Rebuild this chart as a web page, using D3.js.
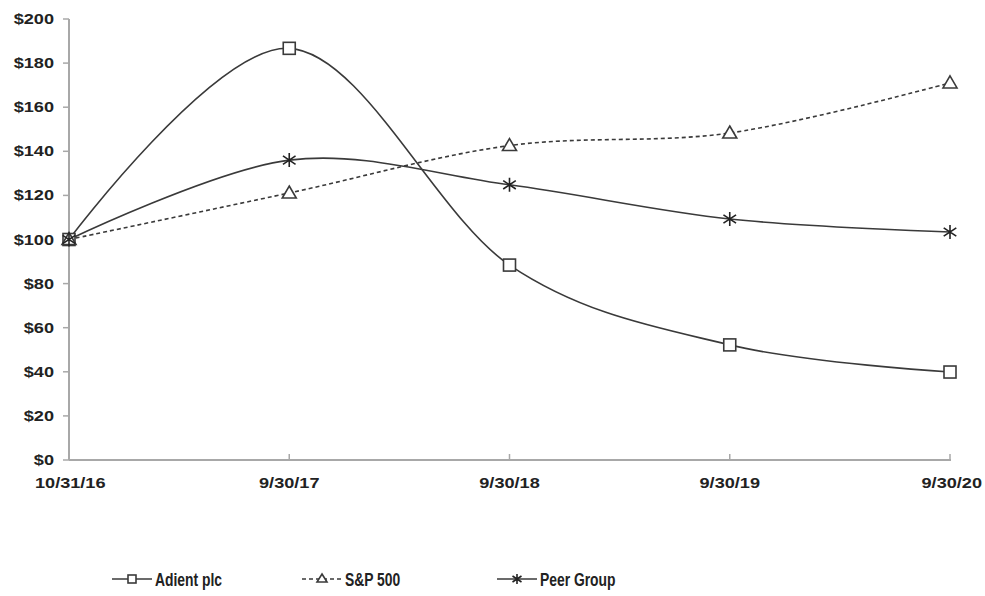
<!DOCTYPE html>
<html>
<head>
<meta charset="utf-8">
<script src="https://cdn.jsdelivr.net/npm/d3@7"></script>
<style>
  body { margin: 0; background: #fff; }
  text { font-family: "Liberation Sans", Arial, sans-serif; fill: #222; }
</style>
</head>
<body>
<div id="chart"></div>
<script>
const dates = ['10/31/16', '9/30/17', '9/30/18', '9/30/19', '9/30/20'];
const adient = [100, 186.7, 88.4, 52.2, 39.9];
const sp500 = [100, 121.1, 142.6, 148.3, 171];
const peer = [100, 136, 124.8, 109.3, 103.4];
const yTicks = [0, 20, 40, 60, 80, 100, 120, 140, 160, 180, 200];

const W = 985, H = 596;
const svg = d3.select('#chart').append('svg').attr('width', W).attr('height', H);

const x = d3.scalePoint().domain(dates).range([69, 950]);
const y = d3.scaleLinear().domain([0, 200]).range([460, 19]);

// axes
const axisCol = '#a8a8a8';
svg.append('line').attr('x1', 69).attr('x2', 69).attr('y1', y(200)).attr('y2', y(0))
  .attr('stroke', axisCol).attr('stroke-width', 2);
svg.append('line').attr('x1', 69).attr('x2', 951).attr('y1', y(0)).attr('y2', y(0))
  .attr('stroke', axisCol).attr('stroke-width', 2);

svg.selectAll('.ytick').data(yTicks).enter().append('line')
  .attr('x1', 63).attr('x2', 69).attr('y1', d => y(d)).attr('y2', d => y(d))
  .attr('stroke', axisCol).attr('stroke-width', 1.5);
svg.selectAll('.xtick').data(dates.slice(1)).enter().append('line')
  .attr('x1', d => x(d)).attr('x2', d => x(d)).attr('y1', y(0) - 6).attr('y2', y(0))
  .attr('stroke', axisCol).attr('stroke-width', 1.5);

const sx = 1.25;
svg.selectAll('.ylab').data(yTicks).enter().append('text')
  .attr('transform', d => `translate(54,${y(d) + 5}) scale(${sx},1)`)
  .attr('text-anchor', 'end').attr('font-size', 14.5).attr('font-weight', 'bold')
  .text(d => '$' + d);

svg.selectAll('.xlab').data(dates).enter().append('text')
  .attr('transform', (d, i) => {
    const px = i === 0 ? 35 : (i === dates.length - 1 ? 982 : x(d));
    return `translate(${px},488) scale(${sx},1)`;
  })
  .attr('text-anchor', (d, i) => i === 0 ? 'start' : (i === dates.length - 1 ? 'end' : 'middle'))
  .attr('font-size', 14.5).attr('font-weight', 'bold')
  .text(d => d);

const lineCol = '#3a3a3a';
const curve = d3.curveCardinal.tension(0);
const mk = d3.line().x((d, i) => x(dates[i])).y(d => y(d)).curve(curve);

const series = [
  { name: 'Adient plc', vals: adient, dash: null, marker: 'square' },
  { name: 'S&P 500', vals: sp500, dash: '4,3', marker: 'triangle' },
  { name: 'Peer Group', vals: peer, dash: null, marker: 'star' }
];

function drawMarker(g, type, cx, cy, r) {
  if (type === 'square') {
    g.append('rect').attr('x', cx - r).attr('y', cy - r).attr('width', 2 * r).attr('height', 2 * r)
      .attr('fill', '#fff').attr('stroke', lineCol).attr('stroke-width', 1.6);
  } else if (type === 'triangle') {
    g.append('path').attr('d', `M${cx},${cy - r - 1}L${cx + r + 1},${cy + r - 1}L${cx - r - 1},${cy + r - 1}Z`)
      .attr('fill', '#fff').attr('stroke', lineCol).attr('stroke-width', 1.6);
  } else {
    const k = r + 1;
    let p = `M${cx},${cy - k}L${cx},${cy + k}`;
    p += `M${cx - k * 0.9},${cy - k * 0.6}L${cx + k * 0.9},${cy + k * 0.6}`;
    p += `M${cx + k * 0.9},${cy - k * 0.6}L${cx - k * 0.9},${cy + k * 0.6}`;
    g.append('path').attr('d', p).attr('stroke', '#222').attr('stroke-width', 1.6).attr('fill', 'none');
  }
}

// draw in back-to-front order
[series[1], series[2], series[0]].forEach(s => {
  svg.append('path').attr('d', mk(s.vals)).attr('fill', 'none')
    .attr('stroke', lineCol).attr('stroke-width', 1.6)
    .attr('stroke-dasharray', s.dash);
});
[series[0], series[1], series[2]].forEach(s => {
  const g = svg.append('g');
  s.vals.forEach((v, i) => drawMarker(g, s.marker, x(dates[i]), y(v), 6));
});

// legend
const legX = [112, 302, 497];
const legY = 579;
series.forEach((s, i) => {
  const g = svg.append('g');
  g.append('line').attr('x1', legX[i]).attr('x2', legX[i] + 40).attr('y1', legY).attr('y2', legY)
    .attr('stroke', lineCol).attr('stroke-width', 1.6).attr('stroke-dasharray', s.dash);
  drawMarker(g, s.marker, legX[i] + 20, legY, 4);
  g.append('text').attr('transform', `translate(${legX[i] + 43},${legY + 7}) scale(0.73,1)`)
    .attr('font-size', 19).attr('font-weight', 'bold')
    .text(s.name);
});
</script>
</body>
</html>
